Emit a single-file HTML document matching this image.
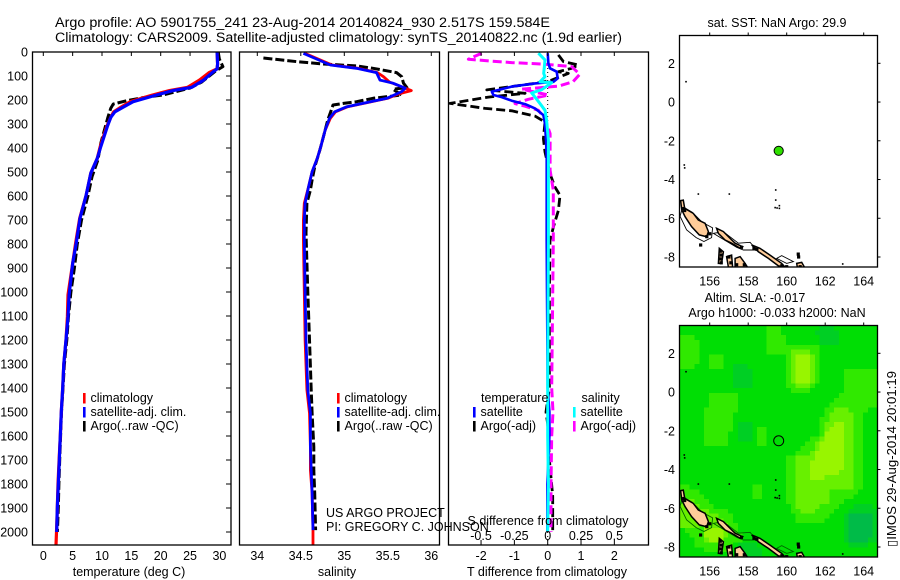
<!DOCTYPE html>
<html>
<head>
<meta charset="utf-8">
<title>Argo profile 5901755_241</title>
<style>
html,body{margin:0;padding:0;background:#fff;}
svg{display:block;font-family:"Liberation Sans",sans-serif;font-size:12.5px;fill:#000;}
text{fill:#000;}
</style>
</head>
<body>
<svg id="root" xmlns="http://www.w3.org/2000/svg" width="900" height="580" viewBox="0 0 900 580">
<defs>
<clipPath id="clip-t"><rect x="33" y="52" width="198" height="493"/></clipPath>
<clipPath id="clip-s"><rect x="240" y="52" width="199" height="493"/></clipPath>
<clipPath id="clip-d"><rect x="449" y="52" width="199" height="493"/></clipPath>
<clipPath id="clip-m1"><rect x="680" y="35.5" width="197.5" height="231.5"/></clipPath>
<clipPath id="clip-m2"><rect x="680" y="325.5" width="197.5" height="231.5"/></clipPath>
</defs>
<rect x="0" y="0" width="900" height="580" fill="#fff"/>
<text x="55" y="27" font-size="14.2" textLength="495" lengthAdjust="spacingAndGlyphs">Argo profile: AO 5901755_241 23-Aug-2014 20140824_930 2.517S 159.584E</text>
<text x="55" y="42" font-size="14.2" textLength="567" lengthAdjust="spacingAndGlyphs">Climatology: CARS2009. Satellite-adjusted climatology: synTS_20140822.nc (1.9d earlier)</text>
<g id="heat" clip-path="url(#clip-m2)" shape-rendering="crispEdges"></g>
<g id="plots"></g>
<text x="129" y="576" text-anchor="middle">temperature (deg C)</text>
<text x="337" y="576" text-anchor="middle">salinity</text>
<text x="547" y="576" text-anchor="middle">T difference from climatology</text>
<text x="548" y="525" text-anchor="middle">S difference from climatology</text>
<text x="326" y="517">US ARGO PROJECT</text>
<text x="326" y="531">PI: GREGORY C. JOHNSON</text>
<text x="777" y="27" text-anchor="middle">sat. SST: NaN Argo: 29.9</text>
<text x="755" y="302" text-anchor="middle">Altim. SLA: -0.017</text>
<text x="777" y="317" text-anchor="middle">Argo h1000: -0.033 h2000: NaN</text>
<text transform="translate(896,547) rotate(-90)" textLength="176" lengthAdjust="spacingAndGlyphs">▯IMOS 29-Aug-2014 20:01:19</text>
</svg>
<script>
/* Temperature profile */
const tempSatDepths = [0,50,70,85,117,147,161,179,207,230,249,272,311,394,443,505,596,693,797,880,1012,1103,1200,1300,1400,1500,1600,1700,1800,1900,2000];
const tempSat = [29.6,29.7,29.6,28.8,27.3,25.3,22.1,19.3,15.3,13.6,12.2,11.5,10.9,9.8,9.2,8.1,7.3,6.25,5.6,5.0,4.4,4.2,3.87,3.5,3.3,3.07,2.9,2.73,2.56,2.39,2.28];
const tempClimDepths = [0,50,70,85,117,147,161,179,207,230,249,272,311,394,443,505,596,693,797,880,1012,1103,1200,1300,1400,1500,1600,1700,1800,1900,2000,2054];
const tempClim = [29.6,29.7,29.6,28.3,26.6,24.6,21.5,18.6,14.8,13.2,12,11.5,10.8,9.7,9.2,8.1,7.3,6.2,5.5,5,4.2,4.1,3.87,3.5,3.3,3.07,2.9,2.7,2.5,2.39,2.25,2.16];
const tempArgoDepths = [0,30,61,80,100,125,150,179,190,203,217,234,272,380,450,520,600,700,800,900,1000,1100,1200,1300,1400,1500,1600,1700,1800,1900,2000];
const tempArgo = [29.8,30,30.6,29.3,28.3,27,25,20.4,17,14.2,11.9,11.5,11,9.8,9.3,8.3,7.6,6.5,5.8,5.3,4.7,4.3,4,3.6,3.35,3.1,2.95,2.8,2.65,2.55,2.4];
/* Salinity profile */
const salSatDepths = [6,54,68,86,117,130,151,165,193,207,228,249,276,325,394,443,499,561,630,700,783,1000,1200,1408,1505,1645,1742,1838,1992];
const salSat = [34.53,34.84,35.14,35.37,35.41,35.56,35.70,35.66,35.49,35.30,35.03,34.89,34.83,34.78,34.73,34.69,34.63,34.59,34.55,34.54,34.54,34.55,34.56,34.58,34.61,34.61,34.62,34.63,34.64];
const salClimDepths = [6,54,68,86,103,125,161,175,193,207,228,249,276,325,394,443,499,561,630,700,783,1000,1200,1408,1505,1645,1742,1838,1992,2054];
const salClim = [34.55,34.86,35.16,35.38,35.45,35.52,35.77,35.62,35.5,35.31,35.04,34.9,34.84,34.78,34.73,34.69,34.63,34.59,34.54,34.53,34.53,34.54,34.55,34.57,34.6,34.61,34.61,34.63,34.64,34.64];
const salArgoDepths = [25,40,50,58,68,86,103,130,148,155,179,193,207,214,221,242,283,339,408,479,533,575,630,754,1000,1200,1408,1505,1645,1742,1838,1992];
const salArgo = [34.07,34.45,34.76,35.14,35.33,35.6,35.66,35.68,35.72,35.56,35.66,35.33,35.14,34.99,34.87,34.85,34.81,34.77,34.72,34.66,34.63,34.61,34.57,34.56,34.58,34.6,34.62,34.63,34.65,34.65,34.66,34.67];
/* Difference profiles */
const diffTSatDepths = [5,47,68,82,110,124,131,144,165,179,188,203,217,235,263,299,368,438,785,1000,1400,1500,1600,1700,1800,2000];
const diffTSat = [0,.02,.07,.27,.30,.17,-.38,-1.08,-1.68,-1.63,-1.38,-1.08,-.68,-.38,-.13,-.08,-.05,-.03,-.03,-.02,0,.05,.05,.02,-.01,-.01];
const diffTArgoDepths = [12,40,54,68,82,89,117,131,158,172,188,214,235,245,267,292,361,417,507,563,597,660,729,785,1000,1400,1500,1550,1700,1850,2000];
const diffTArgo = [.32,.47,.92,.72,.32,.62,.12,-.38,-1.83,-.68,-1.78,-2.93,-1.88,-1.08,-.38,-.08,-.13,-.08,.07,.22,.37,.32,.17,.07,.05,.05,-.05,0,.05,.15,.15];
const diffSSatDepths = [5,33,89,103,124,128,157,171,188,215,243,285,368,785,1400,1600,1800,2000];
const diffSSat = [-.07,-.02,-.03,-.02,-.058,.03,-.045,-.12,-.095,-.058,-.02,-.008,.005,.005,0,0,.005,0];
const diffSArgoDepths = [5,30,37,44,51,61,93,124,142,155,179,197,215,226,243,278,340,493,576,785,1400,1500,1600,1800,2000];
const diffSArgo = [-.495,-.595,-.445,-.27,-.02,.18,.24,.19,.08,-.195,.005,-.145,-.245,-.17,-.07,-.02,.018,.018,.042,.042,.03,.04,.03,.025,.025];
/* Tick labels */
const depthTicks = [0,100,200,300,400,500,600,700,800,900,1000,1100,1200,1300,1400,1500,1600,1700,1800,1900,2000];
const tempTicks = [0,5,10,15,20,25,30];
const salTicks = [34,34.5,35,35.5,36];
const diffTTicks = [-2,-1,0,1,2];
const diffSTicks = [-0.5,-0.25,0,0.25,0.5];
const lonTicks = [156,158,160,162,164];
const latTicks = [2,0,-2,-4,-6,-8];
/* Argo float position */
const floatLon = [159.584];
const floatLat = [-2.517];
/* Coastline, lon/lat */
const landLon = [
 [154.49,154.63,154.70,155.15,155.41,155.76,155.93,155.84,155.46,155.06,154.72,154.55],
 [156.36,156.71,157.06,157.32,157.71,157.58,157.14,156.8,156.45],
 [158.18,158.61,159.13,159.74,159.91,159.57,159.05,158.53],
 [156.5,156.71,156.62,156.45],
 [156.88,157.14,157.19,156.97],
 [157.32,157.58,157.84,157.96,157.32],
 [160.52,160.78,160.92,160.55]
];
const landLat = [
 [-5.09,-5.06,-5.49,-5.75,-6.09,-6.26,-6.69,-6.95,-6.86,-6.43,-5.92,-5.57],
 [-6.52,-6.69,-7.04,-7.29,-7.47,-7.55,-7.29,-7.12,-6.78],
 [-7.38,-7.55,-7.9,-8.33,-8.52,-8.46,-8.07,-7.73],
 [-7.55,-7.73,-8.33,-8.33],
 [-7.98,-7.9,-8.52,-8.52],
 [-8.07,-7.98,-8.33,-8.52,-8.52],
 [-8.33,-8.28,-8.52,-8.52]
];
const shelfLon = [
 [154.46,154.8,155.3,155.7,156.1,156.15,155.6,155.1,154.6],
 [156.19,157.4,157.75,158.44,158.1,157.49,156.7,156.19],
 [159.48,159.74,160.35,160.0,159.48]
];
const shelfLat = [
 [-5.9,-6.6,-7.0,-7.2,-7.0,-6.5,-6.2,-5.7,-5.4],
 [-6.78,-7.5,-7.64,-7.64,-7.24,-7.29,-6.69,-6.78],
 [-8.07,-7.93,-8.24,-8.33,-8.07]
];
const isleLon = [154.77,154.68,154.7,155.41,157.02,159.43,159.43,159.4,159.5,159.62,159.62,162.91];
const isleLat = [1.05,-3.25,-3.4,-4.75,-4.75,-4.54,-5.06,-5.45,-5.47,-5.35,-5.49,-8.36];
const reefLon = [155.53,156.55,156.6,156.55,156.6,157.0,157.1,157.4,157.8,158.3,158.45,155.85,156.0,154.65,154.7,157.65,159.75,160.0,160.7,160.6,160.62];
const reefLat = [-7.38,-7.7,-7.9,-8.1,-8.3,-8.0,-8.3,-8.4,-8.4,-7.55,-7.6,-6.95,-6.8,-5.5,-5.6,-7.5,-8.45,-8.5,-8.5,-7.85,-8.0];
/* Sea level anomaly class per 0.25-degree cell, north to south */
const slaLevels = [
[2,2,2,2,2,2,2,2,2,2,2,2,2,2,2,2,2,2,3,3,3,2,2,2,2,2,2,2,2,1,1,1,2,2,2,2,2,2,2,2,2],
[2,2,2,2,2,2,2,2,2,2,2,2,2,2,2,2,2,2,3,3,3,2,2,2,2,2,2,2,1,1,1,1,1,2,2,2,2,2,2,2,2],
[3,3,3,2,2,2,2,2,2,2,2,2,2,2,2,2,2,2,3,3,3,3,2,2,2,2,2,2,2,1,1,1,1,2,2,2,2,2,2,2,2],
[3,3,3,3,2,2,2,2,2,2,2,2,2,2,2,2,2,2,3,3,3,3,2,2,2,2,2,2,2,1,1,1,1,2,2,2,2,2,2,2,2],
[3,3,3,3,2,2,2,2,2,2,2,2,2,2,2,2,2,2,3,3,3,3,3,3,3,3,3,3,3,2,2,2,2,2,2,2,2,2,2,2,2],
[3,3,3,3,2,2,2,2,2,2,2,2,2,2,2,2,2,2,3,3,3,3,3,4,4,4,4,3,3,2,2,2,2,2,2,2,2,2,2,2,2],
[3,3,3,3,2,2,3,3,3,2,2,2,2,2,2,2,2,2,2,2,2,2,3,4,5,5,5,4,3,2,2,2,2,2,2,2,2,2,2,2,2],
[3,3,3,3,2,2,3,3,3,2,2,2,2,2,2,2,2,2,2,2,2,2,3,4,5,5,5,4,3,2,2,2,2,2,2,2,2,2,2,2,2],
[3,3,3,2,2,2,3,3,3,2,2,1,1,1,2,2,2,2,2,2,2,2,3,4,5,5,5,4,3,2,2,2,2,2,2,2,2,2,2,2,2],
[2,2,2,2,2,2,2,2,2,2,2,1,1,1,1,2,2,2,2,2,2,2,3,4,5,5,5,4,3,2,2,2,2,2,3,3,3,3,3,3,3],
[2,2,2,2,2,2,2,2,2,2,2,1,1,1,1,2,2,2,2,2,2,2,3,4,5,5,5,4,3,2,2,2,2,2,3,3,3,3,3,3,3],
[2,2,2,2,2,2,2,2,2,2,2,1,1,1,1,2,2,2,2,2,2,2,3,4,5,5,5,4,3,2,2,2,2,2,3,3,3,3,3,3,3],
[2,2,2,2,2,2,2,2,2,2,2,1,1,1,1,2,2,2,2,2,2,2,3,3,4,4,4,3,2,2,2,2,2,2,3,3,3,3,3,3,3],
[2,2,2,2,2,2,2,2,2,2,2,2,2,2,2,2,2,2,2,2,2,2,2,3,3,3,3,2,2,2,2,2,2,2,3,3,3,3,3,3,3],
[2,2,2,2,2,2,3,3,3,3,3,3,2,2,2,2,2,2,2,2,2,2,2,2,2,2,2,2,2,2,2,2,2,3,3,3,3,3,3,3,3],
[2,2,2,2,2,2,3,3,3,3,3,3,2,2,2,2,2,2,2,2,2,2,2,2,2,2,2,2,2,2,2,2,3,3,3,3,3,3,3,3,3],
[2,2,2,2,2,2,3,3,3,3,3,3,2,2,2,2,2,2,2,2,2,2,2,2,2,2,2,2,2,2,2,3,3,3,3,3,3,3,3,3,3],
[2,2,2,2,2,3,3,3,3,3,3,3,2,2,2,2,2,2,2,2,2,2,2,2,2,2,2,2,2,2,3,3,4,4,4,3,3,3,3,2,2],
[2,2,2,2,2,3,3,3,3,3,3,2,2,2,2,2,2,2,2,2,2,2,2,2,2,2,2,2,2,2,3,4,4,4,4,4,3,3,2,2,2],
[2,2,2,2,2,3,3,3,3,3,3,2,2,2,2,2,2,2,2,2,2,2,2,2,2,2,2,2,2,3,3,4,4,4,4,4,3,3,2,2,2],
[2,2,2,2,2,3,3,3,3,3,3,2,1,1,1,2,2,2,2,2,2,2,2,2,2,2,2,2,2,3,4,4,5,5,4,4,3,3,2,2,2],
[2,2,2,2,2,3,3,3,3,3,3,2,1,1,1,2,3,3,2,2,2,2,2,2,2,2,2,2,2,3,4,5,5,5,4,4,3,3,2,2,2],
[2,2,2,2,2,3,3,3,3,3,2,2,1,1,1,2,3,3,2,2,2,2,2,2,2,2,2,2,2,3,5,5,5,5,4,4,3,3,2,2,2],
[2,2,2,2,2,3,3,3,3,3,2,2,1,1,1,2,3,3,2,2,2,2,2,2,2,2,2,3,3,4,5,5,5,5,4,4,3,3,2,2,2],
[2,2,2,2,2,3,3,3,3,3,2,2,2,2,2,2,3,3,2,2,2,2,2,2,2,2,3,3,4,5,5,5,5,5,4,4,3,3,2,2,2],
[2,2,2,2,2,2,2,2,2,2,2,2,2,2,2,2,2,2,2,2,2,2,2,2,2,3,3,3,4,5,5,5,5,5,4,4,3,3,2,2,2],
[2,2,2,2,2,2,2,2,2,2,2,2,2,2,2,2,2,2,2,2,2,2,2,2,3,3,3,4,5,5,5,5,5,5,4,4,3,3,2,2,2],
[2,2,2,2,2,2,2,2,2,2,2,2,2,2,2,2,2,2,2,2,2,2,3,3,4,4,4,4,5,5,5,5,5,5,4,4,3,3,2,2,2],
[2,2,2,2,2,2,2,2,2,2,2,2,2,2,2,2,2,2,2,2,2,2,3,3,4,4,4,5,5,5,5,5,5,5,4,4,3,3,2,2,2],
[2,2,2,2,2,2,2,2,2,2,2,2,2,2,2,2,2,2,2,2,2,2,3,3,4,4,4,5,5,5,5,5,5,5,4,4,3,3,2,2,2],
[2,2,2,2,2,2,2,2,2,2,2,2,2,2,2,2,2,2,2,2,2,2,3,3,4,4,4,5,5,5,5,5,5,4,4,4,3,3,2,2,2],
[2,2,2,2,2,2,2,2,2,2,2,2,2,2,2,2,2,2,2,2,2,2,3,3,4,4,4,5,5,5,4,4,4,4,4,4,3,3,2,2,2],
[2,2,2,2,2,2,2,2,2,2,2,2,2,2,2,2,2,2,2,2,2,2,3,3,4,4,4,4,4,4,4,4,4,4,4,4,3,3,2,2,2],
[3,3,2,2,2,2,2,2,2,2,2,2,2,2,2,3,3,2,2,2,2,2,3,3,4,4,4,4,4,4,4,4,4,4,4,4,3,3,2,2,2],
[3,3,3,3,2,2,2,2,2,2,2,2,2,2,2,3,3,2,2,2,2,2,3,3,4,4,4,4,4,4,4,3,3,3,3,3,3,2,2,2,2],
[3,3,3,3,3,2,2,2,2,2,2,2,2,2,2,3,3,2,2,2,2,2,3,3,4,4,4,4,4,4,4,3,3,3,3,3,2,2,2,2,2],
[3,4,4,3,3,3,2,2,2,2,2,2,2,2,2,2,2,2,2,2,2,2,3,3,4,4,4,4,4,4,4,3,3,3,2,2,2,2,2,2,2],
[4,4,4,4,3,3,3,2,2,2,2,2,2,2,2,2,2,2,2,2,2,2,2,3,4,4,4,4,4,3,3,3,3,2,2,2,1,1,1,1,2],
[4,4,4,4,4,4,3,3,3,3,2,2,2,2,2,2,2,2,2,2,2,2,2,3,3,4,4,4,3,3,3,3,2,2,2,1,1,1,1,1,1],
[4,4,4,4,4,4,4,4,3,3,3,2,2,2,2,2,2,2,2,2,2,2,2,2,3,3,3,3,3,3,3,2,2,2,1,0,0,0,0,0,1],
[4,4,4,4,4,4,4,4,4,3,3,2,2,2,2,2,2,2,2,2,2,2,2,2,3,3,3,3,3,3,2,2,2,2,1,0,0,0,0,0,1],
[4,4,4,4,3,4,4,4,4,4,3,3,2,2,2,2,2,2,2,2,2,2,2,2,2,2,2,2,2,2,2,2,2,2,1,0,0,0,0,0,1],
[2,3,3,3,3,5,5,5,5,4,3,3,2,2,2,2,2,2,2,2,2,2,2,2,2,2,2,2,2,2,2,2,2,2,1,0,0,0,0,0,1],
[2,2,3,3,3,5,5,5,5,4,3,3,3,2,2,2,2,2,2,2,2,2,2,2,2,2,2,2,2,2,2,2,2,2,1,0,0,0,0,0,1],
[2,2,2,3,3,4,5,5,5,3,3,3,3,2,2,2,2,2,2,2,2,2,2,2,2,2,2,2,2,2,2,2,2,2,1,0,0,0,0,1,1],
[2,2,2,3,3,3,3,3,3,3,3,2,1,1,1,1,2,2,2,2,2,2,2,2,2,2,2,2,2,2,2,2,2,2,2,1,1,1,1,2,2],
[2,2,2,2,2,3,3,3,3,3,2,2,1,1,1,1,1,2,2,2,2,2,2,2,2,2,2,2,2,2,2,2,2,2,2,2,2,2,2,2,2],
[2,2,2,2,2,2,2,2,2,2,2,2,1,1,1,1,1,2,2,2,2,2,2,2,2,2,2,2,2,2,2,2,2,2,2,2,2,2,2,2,2]
];
const slaColors = ['#00bb48','#00cf24','#00de04','#30e900','#68f000','#98f500'];

const NS = 'http://www.w3.org/2000/svg';
const plots = document.getElementById('plots');
function el(tag, attrs, parent) {
  const e = document.createElementNS(NS, tag);
  for (const k in attrs) e.setAttribute(k, attrs[k]);
  (parent || plots).appendChild(e);
  return e;
}

/* Axis functions */
const yDepth = d => 52 + d * 0.24;
const xTemp = v => 43.3 + v * 5.87;
const xSal = v => 257.3 + (v - 34) * 87;
const xDT = v => 547.7 + v * 33.3;
const xDS = v => 547.7 + v * 133.3;
const xLon = v => 709.7 + (v - 156) * 19.25;
const yLat1 = v => 63.3 - (v - 2) * 19.37;
const yLat2 = v => 353.3 - (v - 2) * 19.37;

function profile(name, xs, depths, xf, color, width, dash, clip) {
  const pts = xs.map((v, i) => xf(v).toFixed(1) + ',' + yDepth(depths[i]).toFixed(1)).join(' ');
  const p = el('polyline', {points: pts, fill: 'none', stroke: color, 'stroke-width': width, 'stroke-linejoin': 'round', 'clip-path': 'url(#' + clip + ')'});
  if (dash) p.setAttribute('stroke-dasharray', dash);
  
  
}

/* Profiles */
profile('temperature-argo-line', tempArgo, tempArgoDepths, xTemp, '#000', 3, '9 3', 'clip-t');
profile('temperature-climatology-line', tempClim, tempClimDepths, xTemp, '#f00', 3.2, null, 'clip-t');
profile('temperature-satellite-line', tempSat, tempSatDepths, xTemp, '#00f', 3.2, null, 'clip-t');
profile('salinity-argo-line', salArgo, salArgoDepths, xSal, '#000', 3, '9 3', 'clip-s');
profile('salinity-climatology-line', salClim, salClimDepths, xSal, '#f00', 2.8, null, 'clip-s');
profile('salinity-satellite-line', salSat, salSatDepths, xSal, '#00f', 2.8, null, 'clip-s');

const zero = el('line', {x1: xDT(0), x2: xDT(0), y1: 52, y2: 545, stroke: '#000', 'stroke-width': 1, 'stroke-dasharray': '1 3'});


profile('t-difference-argo-line', diffTArgo, diffTArgoDepths, xDT, '#000', 2.8, '9 4', 'clip-d');
profile('s-difference-argo-line', diffSArgo, diffSArgoDepths, xDS, '#f0f', 3, '9 4', 'clip-d');
profile('t-difference-satellite-line', diffTSat, diffTSatDepths, xDT, '#00f', 2.6, null, 'clip-d');
profile('s-difference-satellite-line', diffSSat, diffSSatDepths, xDS, '#0ff', 3, null, 'clip-d');

/* Frames */
function frame(name, x, y, w, h) {
  const r = el('rect', {x: x, y: y, width: w, height: h, fill: 'none', stroke: '#000', 'stroke-width': 1.3});
  
  
}
frame('temperature-panel-frame', 32.5, 52, 198.5, 493);
frame('salinity-panel-frame', 239.5, 52, 200, 493);
frame('difference-panel-frame', 448.5, 52, 200, 493);

function tick(name, x1, y1, x2, y2) {
  const t = el('line', {x1: x1, y1: y1, x2: x2, y2: y2, stroke: '#000', 'stroke-width': 1});
  
  
}
function label(name, str, x, y, anchor) {
  const t = el('text', {x: x, y: y, 'text-anchor': anchor || 'middle'});
  t.textContent = str;
  
  
}

depthTicks.forEach(d => {
  tick('depth-tick', 226, yDepth(d), 231, yDepth(d));
  label('depth-tick-label', String(d), 28, yDepth(d) + 4.5, 'end');
});
tempTicks.forEach(v => {
  tick('temperature-tick', xTemp(v), 52, xTemp(v), 56);
  label('temperature-tick-label', String(v), xTemp(v), 560);
});
salTicks.forEach(v => {
  tick('salinity-tick', xSal(v), 52, xSal(v), 56);
  label('salinity-tick-label', String(v), xSal(v), 560);
});
diffTTicks.forEach(v => {
  tick('t-difference-tick', xDT(v), 52, xDT(v), 56);
  label('t-difference-tick-label', String(v), xDT(v), 560);
});
diffSTicks.forEach(v => {
  tick('s-difference-tick', xDS(v), 540, xDS(v), 545);
  label('s-difference-tick-label', String(v), xDS(v), 540);
});

/* Legends */
function legendEntry(name, x, y, color, str) {
  const r = el('rect', {x: x - 1, y: y - 9, width: 2.6, height: 10.5, fill: color});
  
  
  label(name + '-label', str, x + 6.5, y, 'start');
}
legendEntry('temperature-legend-climatology', 84, 402, '#f00', 'climatology');
legendEntry('temperature-legend-satellite', 84, 416, '#00f', 'satellite-adj. clim.');
legendEntry('temperature-legend-argo', 84, 430, '#000', 'Argo(..raw -QC)');
legendEntry('salinity-legend-climatology', 338, 402, '#f00', 'climatology');
legendEntry('salinity-legend-satellite', 338, 416, '#00f', 'satellite-adj. clim.');
legendEntry('salinity-legend-argo', 338, 430, '#000', 'Argo(..raw -QC)');
label('difference-legend-temperature-heading', 'temperature', 481, 402, 'start');
legendEntry('difference-legend-t-satellite', 474, 416, '#00f', 'satellite');
legendEntry('difference-legend-t-argo', 474, 430, '#000', 'Argo(-adj)');
label('difference-legend-salinity-heading', 'salinity', 581.5, 402, 'start');
legendEntry('difference-legend-s-satellite', 574, 416, '#0ff', 'satellite');
legendEntry('difference-legend-s-argo', 574, 430, '#f0f', 'Argo(-adj)');

/* Heatmap */
const heat = document.getElementById('heat');
const cellW = 197.5 / 41, cellH = 231.5 / 48;
slaLevels.forEach((row, r) => row.forEach((lvl, c) => {
  const cell = el('rect', {x: (680 + c * cellW).toFixed(2), y: (325.5 + r * cellH).toFixed(2), width: (cellW + 0.3).toFixed(2), height: (cellH + 0.3).toFixed(2), fill: slaColors[lvl]}, heat);
  
  
}));

/* Maps */
function drawMap(prefix, yLat, top, clip, shelfColor, shelfFill) {
  const g = el('g', {'clip-path': 'url(#' + clip + ')'});
  
  
  shelfLon.forEach((lons, i) => {
    const pts = lons.map((v, j) => xLon(v).toFixed(1) + ',' + yLat(shelfLat[i][j]).toFixed(1)).join(' ');
    const s = el('polygon', {points: pts, fill: shelfFill, stroke: shelfColor, 'stroke-width': 0.9}, g);
    
    
  });
  landLon.forEach((lons, i) => {
    const pts = lons.map((v, j) => xLon(v).toFixed(1) + ',' + yLat(landLat[i][j]).toFixed(1)).join(' ');
    const s = el('polygon', {points: pts, fill: '#ffcc99', stroke: '#000', 'stroke-width': 1.5}, g);
    
    
  });
  isleLon.forEach((v, i) => {
    const s = el('rect', {x: xLon(v) - 0.8, y: yLat(isleLat[i]) - 0.8, width: 1.6, height: 1.6, fill: '#000'}, g);
    
    
  });
  reefLon.forEach((v, i) => {
    const s = el('rect', {x: xLon(v) - 1.6, y: yLat(reefLat[i]) - 1.6, width: 3.2, height: 3.2, fill: '#000'}, g);
    
    
  });
  frame(prefix + '-frame', 679.5, top, 198, 231.5);
  lonTicks.forEach(v => {
    tick(prefix + '-lon-tick', xLon(v), top - 3, xLon(v), top);
    label(prefix + '-lon-label', String(v), xLon(v), top + 250);
  });
  latTicks.forEach(v => {
    tick(prefix + '-lat-tick', 877.5, yLat(v), 880.5, yLat(v));
    label(prefix + '-lat-label', String(v), 675, yLat(v) + 4.5, 'end');
  });
}
drawMap('sst-map', yLat1, 35.5, 'clip-m1', '#000', '#fff');
drawMap('sla-map', yLat2, 325.5, 'clip-m2', '#006400', 'none');

/* Argo float markers */
const marker1 = el('circle', {cx: xLon(floatLon[0]), cy: yLat1(floatLat[0]), r: 4.6, fill: '#2fe000', stroke: '#000', 'stroke-width': 1});


const marker2 = el('circle', {cx: xLon(floatLon[0]), cy: yLat2(floatLat[0]), r: 5, fill: 'none', stroke: '#000', 'stroke-width': 1});


</script>
</body>
</html>
